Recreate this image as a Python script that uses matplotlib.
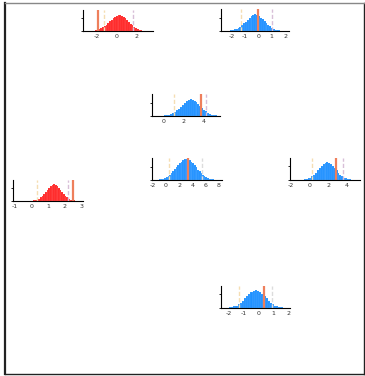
import numpy as np
import matplotlib
matplotlib.use("Agg")
import matplotlib.pyplot as plt
from matplotlib.ticker import MaxNLocator

W, H = 365, 376

# bin counts of each small histogram, with the range they cover
counts_a = [2, 3, 5, 8, 11, 16, 22, 30, 39, 50, 61, 72, 82, 90, 96,
            100, 99, 95, 88, 79, 68, 57, 46, 36, 27, 19, 13, 8, 5, 3]
range_a = (-2.5, 2.7)
counts_b = [1, 2, 4, 6, 9, 13, 19, 26, 35, 45, 56, 68, 79, 89, 97,
            100, 97, 90, 80, 69, 57, 46, 36, 27, 19, 13, 8, 5, 3, 2]
range_b = (-2.4, 1.8)
counts_c = [1, 2, 3, 5, 8, 12, 18, 25, 34, 44, 55, 66, 77, 87, 95,
            100, 98, 92, 83, 72, 60, 48, 37, 28, 20, 13, 8, 5, 3, 1]
range_c = (-0.3, 5.5)
counts_d = [1, 1, 1, 1, 1, 1, 1, 1, 1, 1, 2, 3, 5, 9, 14, 21, 30, 41, 54, 67,
            80, 91, 98, 100, 97, 90, 80, 67, 54, 41, 30, 21, 13, 8, 5, 3, 2, 1, 1, 1]
range_d = (-1.0, 3.0)
counts_e = [1, 1, 1, 2, 3, 4, 7, 10, 14, 19, 25, 33, 41, 51, 61, 71, 80, 88, 95, 99,
            100, 98, 94, 88, 80, 71, 61, 50, 41, 32, 25, 19, 13, 10, 7, 4, 3, 2, 1, 1]
range_e = (-2.0, 8.0)
counts_f = [1, 1, 1, 1, 1, 1, 2, 3, 5, 9, 14, 21, 30, 41, 54, 67, 80, 91, 98,
            100, 97, 90, 80, 67, 54, 41, 30, 21, 14, 9, 5, 3, 2, 1, 1, 1]
range_f = (-2.0, 5.2)
counts_g = [1, 1, 2, 3, 5, 9, 14, 21, 30, 41, 54, 67, 80, 91, 98,
            100, 97, 90, 80, 67, 54, 41, 30, 21, 14, 9, 5, 3, 2, 1]
range_g = (-2.4, 1.9)

# reference markers: lower bound, upper bound, observed value
lower = [-1.27, -1.32, 1.09, 0.34, 0.45, 0.28, -1.33]
upper = [1.66, 1.0, 4.2, 2.22, 5.5, 3.6, 0.93]
observed = [-1.9, -0.05, 3.76, 2.52, 3.3, 2.86, 0.38]

xticks = [[-2, 0, 2], [-2, -1, 0, 1, 2], [0, 2, 4], [-1, 0, 1, 2, 3],
          [-2, 0, 2, 4, 6, 8], [-2, 0, 2, 4], [-2, -1, 0, 1, 2]]

RED = "#ff2424"
BLUE = "#1e90ff"

# (left, top, right, bottom) in pixels, xlim, colour, peak fraction, upper line colour
panels = [
    ((83, 10, 153, 31), (-3.37, 3.63), RED, 0.76, "#d8bfd8"),
    ((221, 9, 289, 31), (-2.8, 2.3), BLUE, 0.76, "#d8bfd8"),
    ((152, 94, 220, 116), (-1.12, 5.6), BLUE, 0.76, "#d8bfd8"),
    ((13, 180, 83, 201), (-1.13, 3.1), RED, 0.8, "#d8bfd8"),
    ((152, 158, 222, 180), (-2.1, 8.5), BLUE, 0.95, "#dcdcdc"),
    ((290, 158, 360, 180), (-2.1, 5.4), BLUE, 0.8, "#d8bfd8"),
    ((221, 286, 290, 308), (-2.5, 2.1), BLUE, 0.8, "#dcdcdc"),
]
hists = [(counts_a, range_a), (counts_b, range_b), (counts_c, range_c),
         (counts_d, range_d), (counts_e, range_e), (counts_f, range_f),
         (counts_g, range_g)]

fig = plt.figure(figsize=(W / 100, H / 100), dpi=100)

# outer frame
frame = fig.add_axes([5 / W, 2 / H, 359 / W, 371 / H])
frame.set_xticks([])
frame.set_yticks([])
for side, sp in frame.spines.items():
    sp.set_linewidth(1.0)
    sp.set_color("#222222")
frame.spines["left"].set_linewidth(1.6)
frame.spines["top"].set_color("#888888")

for i, ((l, t, r, b), xlim, col, peak, ucol) in enumerate(panels):
    ax = fig.add_axes([l / W, 1 - b / H, (r - l) / W, (b - t) / H])
    counts, (lo, hi) = hists[i]
    counts = np.asarray(counts, dtype=float)
    edges = np.linspace(lo, hi, len(counts) + 1)
    ax.bar(edges[:-1], counts, width=np.diff(edges), align="edge",
           color=col, edgecolor=(1, 1, 1, 0.3), linewidth=0.2)
    ax.axvline(lower[i], color="#f5deb3", lw=1.0, ls="--", dashes=(3, 1.5))
    ax.axvline(upper[i], color=ucol, lw=1.0, ls="--", dashes=(3, 1.5))
    ax.axvline(observed[i], color="#ee7f5c", lw=1.6)
    ax.set_xlim(*xlim)
    ax.set_ylim(0, counts.max() / peak)
    ax.set_xticks(xticks[i])
    ax.set_xticklabels([str(v) for v in xticks[i]], fontsize=4.5, color="#333333")
    ax.tick_params(axis="x", length=0, pad=2)
    ax.yaxis.set_major_locator(MaxNLocator(nbins=2))
    ax.set_yticklabels([])
    ax.tick_params(axis="y", length=1.5, width=0.6)
    ax.spines["top"].set_visible(False)
    ax.spines["right"].set_visible(False)
    ax.spines["left"].set_linewidth(0.8)
    ax.spines["bottom"].set_linewidth(0.8)
    ax.patch.set_alpha(0)

fig.savefig("out.png", dpi=100)
